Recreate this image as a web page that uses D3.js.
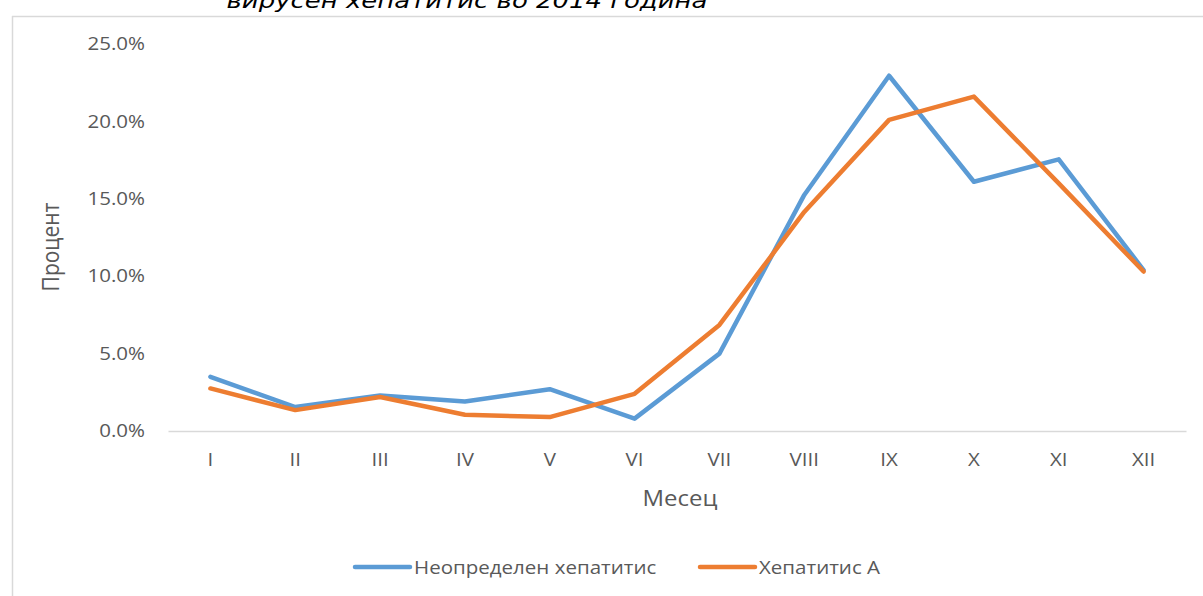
<!DOCTYPE html>
<html><head><meta charset="utf-8">
<script src="https://cdn.jsdelivr.net/npm/d3@7"></script>
<style>
body{margin:0;background:#fff;}
svg{display:block;}
text{font-family:"Open Sans",sans-serif;fill:#595959;}
</style></head>
<body>
<svg id="chart" width="1203" height="596"></svg>
<script>
const categories = ["I","II","III","IV","V","VI","VII","VIII","IX","X","XI","XII"];
const seriesNames = ["Неопределен хепатитис","Хепатитис А"];
const undetermined = [3.5,1.55,2.3,1.9,2.7,0.8,5.0,15.25,22.95,16.1,17.55,10.4];
const hepA = [2.75,1.35,2.2,1.05,0.9,2.4,6.85,14.15,20.1,21.6,16.0,10.3];
const yTicks = [0,5,10,15,20,25];
const title = "вирусен хепатитис во 2014 година";
const xTitle = "Месец";
const yTitle = "Процент";
const colors = ["#5B9BD5","#ED7D31"];

const SX = 1.14; // horizontal stretch of the reference's text
const svg = d3.select("#chart");
const W = 1203, H = 596;

// chart area border
svg.append("line").attr("x1",12).attr("x2",W).attr("y1",16.5).attr("y2",16.5).attr("stroke","#d9d9d9").attr("stroke-width",1.5);
svg.append("line").attr("x1",12.5).attr("x2",12.5).attr("y1",16).attr("y2",H).attr("stroke","#d9d9d9").attr("stroke-width",1.5);

// title (cut off at top as in the reference)
svg.append("text").attr("transform",`translate(467,8) scale(${SX+0.04},1)`).attr("text-anchor","middle")
  .style("font-family","'DejaVu Sans',sans-serif").style("font-style","italic")
  .style("font-size","22px").style("fill","#000").text(title);

const x = d3.scaleBand().domain(categories).range([168,1186]);
const y = d3.scaleLinear().domain([0,25]).range([431,44]);

// x axis
const xAxis = svg.append("g").attr("transform","translate(0,431)")
  .call(d3.axisBottom(x).tickSize(0).tickPadding(22));
xAxis.select(".domain").attr("stroke","#d9d9d9").attr("stroke-width",1.5);
xAxis.selectAll("text").style("font-size","18px").style("fill","#595959")
  .style("font-family","'Open Sans',sans-serif").attr("transform",`scale(${SX},1)`);

// y axis (labels only)
const yAxis = svg.append("g").attr("transform","translate(145,0)")
  .call(d3.axisLeft(y).tickValues(yTicks).tickFormat(d=>d3.format(".1f")(d)+"%").tickSize(0).tickPadding(0));
yAxis.select(".domain").remove();
yAxis.selectAll("text").style("font-size","18px").style("fill","#595959")
  .style("font-family","'Open Sans',sans-serif").attr("transform",`scale(${SX},1)`);

// axis titles
svg.append("text").attr("transform",`translate(680,506) scale(${SX},1)`).attr("text-anchor","middle").style("font-size","21px").text(xTitle);
svg.append("text").attr("transform",`translate(59,247) scale(${SX},1) rotate(-90)`).attr("text-anchor","middle").style("font-size","21px").text(yTitle);

// lines
const line = d3.line().x((d,i)=>x(categories[i])+x.bandwidth()/2).y(d=>y(d));
[undetermined,hepA].forEach((s,k)=>{
  svg.append("path").datum(s).attr("d",line).attr("fill","none")
    .attr("stroke",colors[k]).attr("stroke-width",4.5)
    .attr("stroke-linejoin","round").attr("stroke-linecap","round");
});

// legend
const legendX = [355,700];
seriesNames.forEach((n,k)=>{
  const g = svg.append("g").attr("transform",`translate(${legendX[k]},567)`);
  g.append("line").attr("x1",0).attr("x2",55).attr("y1",0).attr("y2",0)
    .attr("stroke",colors[k]).attr("stroke-width",4.5).attr("stroke-linecap","round");
  g.append("text").attr("transform",`translate(59,6.5) scale(${SX},1)`).style("font-size","18px").text(n);
});
</script>
</body></html>
